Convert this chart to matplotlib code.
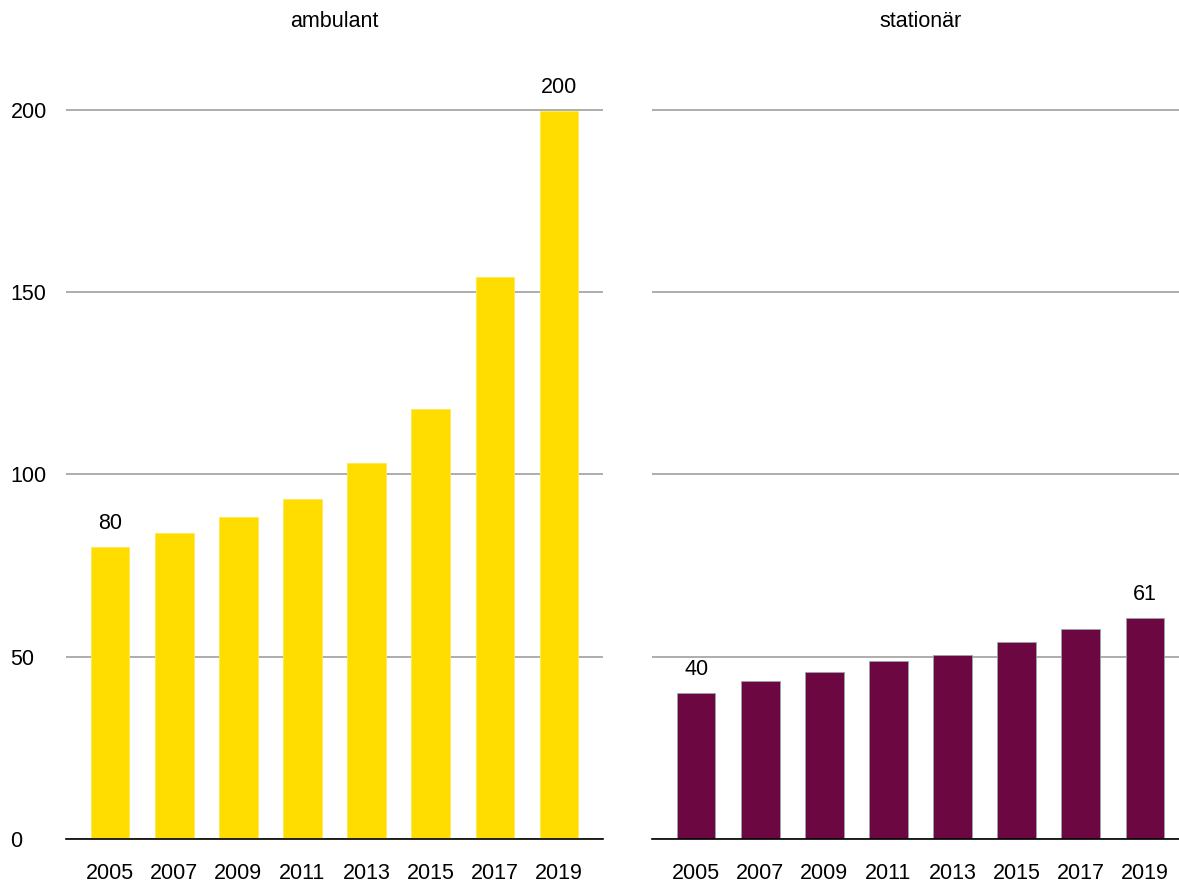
import matplotlib
matplotlib.use('Agg')
import matplotlib.pyplot as plt

plt.rcParams['font.family'] = ['Liberation Sans', 'DejaVu Sans']

years = ['2005', '2007', '2009', '2011', '2013', '2015', '2017', '2019']
ambulant = [80.0, 84.0, 88.3, 93.3, 103.2, 117.8, 154.2, 199.6]
stationaer = [40.0, 43.2, 45.8, 48.7, 50.5, 54.0, 57.6, 60.6]
ambulant_labels = {0: '80', 7: '200'}
stationaer_labels = {0: '40', 7: '61'}

yellow = '#FFDD00'
purple = '#6D0742'
fs = 15.5

fig = plt.figure(figsize=(11.79, 8.85), dpi=100)
ax1 = fig.add_axes([0.056, 0.052, 0.4555, 0.886])
ax2 = fig.add_axes([0.553, 0.052, 0.4555, 0.886])

panels = [
    (ax1, ambulant, yellow, 'ambulant', ambulant_labels, '#FFE84D'),
    (ax2, stationaer, purple, 'stationär', stationaer_labels, '#9AA5A5'),
]

x = list(range(len(years)))
for ax, vals, color, title, labels, edge in panels:
    ax.bar(x, vals, width=0.6, color=color, edgecolor=edge, linewidth=0.6, zorder=3)
    ax.set_xlim(-0.69, 7.69)
    ax.set_ylim(0, 215)
    ax.set_yticks([0, 50, 100, 150, 200])
    ax.grid(axis='y', color='#A0A0A0', linewidth=1.2, zorder=0)
    for s in ['top', 'right', 'left']:
        ax.spines[s].set_visible(False)
    ax.spines['bottom'].set_color('black')
    ax.spines['bottom'].set_linewidth(1.2)
    ax.spines['bottom'].set_zorder(4)
    ax.set_xticks(x)
    ax.set_xticklabels(years, fontsize=fs)
    ax.tick_params(axis='x', length=0, pad=17)
    ax.tick_params(axis='y', length=0, pad=40, labelsize=fs)
    ax.set_title(title, fontsize=fs, pad=20)
    for i, lab in labels.items():
        ax.text(i, vals[i] + 3.5, lab, ha='center', va='bottom', fontsize=fs)

ax2.set_yticklabels([])
for lbl in ax1.get_yticklabels():
    lbl.set_horizontalalignment('left')

fig.savefig('out.png', dpi=100)
